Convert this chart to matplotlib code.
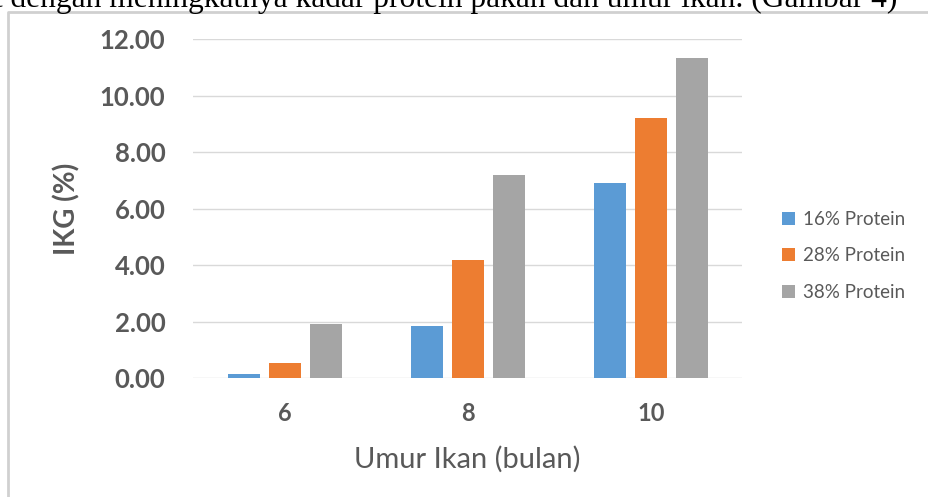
import matplotlib.pyplot as plt
from matplotlib.lines import Line2D
import numpy as np

plt.rcParams['font.family'] = ['Lato', 'DejaVu Sans']

# data
umur = ['6', '8', '10']
series_names = ['16% Protein', '28% Protein', '38% Protein']
protein_16 = [0.15, 1.84, 6.90]
protein_28 = [0.53, 4.18, 9.20]
protein_38 = [1.91, 7.19, 11.33]
yticks = [0, 2, 4, 6, 8, 10, 12]

colors = ['#5b9bd5', '#ed7d31', '#a5a5a5']
text_col = '#595959'

fig = plt.figure(figsize=(9.29, 4.97), dpi=100)
ax = fig.add_axes([0.208, 0.2394, 0.591, 0.6821])

x = np.arange(len(umur))
w = 0.175
off = 0.224
for i, vals in enumerate([protein_16, protein_28, protein_38]):
    ax.bar(x + (i - 1) * off, vals, w, color=colors[i], label=series_names[i], zorder=3)

ax.set_xlim(-0.5, 2.5)
ax.set_ylim(0, 12)
ax.set_yticks(yticks)
ax.set_yticklabels(['{:.2f}'.format(v) for v in yticks], fontsize=18.5, fontweight='bold', color=text_col)
ax.set_xticks(x)
ax.set_xticklabels(umur, fontsize=17, fontweight='bold', color=text_col)
ax.tick_params(axis='y', length=0, pad=20)
ax.tick_params(axis='x', length=0, pad=17)
ax.grid(axis='y', color='#d9d9d9', linewidth=1, zorder=0)
for s in ax.spines.values():
    s.set_visible(False)

ax.set_ylabel('IKG (%)', fontsize=20, fontweight='bold', color=text_col)
ax.yaxis.set_label_coords(-0.231, 0.5)
ax.yaxis.label.set_va('center')
ax.set_xlabel('Umur Ikan (bulan)', fontsize=21, color=text_col)
ax.xaxis.set_label_coords(0.499, -0.24)
ax.xaxis.label.set_va('center')

leg = ax.legend(loc='center left', bbox_to_anchor=(1.042, 0.36), frameon=False,
                fontsize=13.5, handlelength=0.7, handleheight=0.7, handletextpad=0.4,
                labelspacing=1.05)
for t in leg.get_texts():
    t.set_color(text_col)

# frame of the pasted figure
fig.add_artist(Line2D([8 / 929, 8 / 929, 1.0], [0.0, 1 - 12 / 497, 1 - 12 / 497],
                      color='#d0d0d0', linewidth=2, transform=fig.transFigure))

# cut-off document text above the figure
fig.text(-0.006, 1 - 7 / 497, 't dengan meningkatnya kadar protein pakan dan umur ikan. (Gambar 4)',
         fontsize=22.7, family='Liberation Serif', va='baseline', ha='left', color='black')

fig.savefig('out.png', dpi=100)
